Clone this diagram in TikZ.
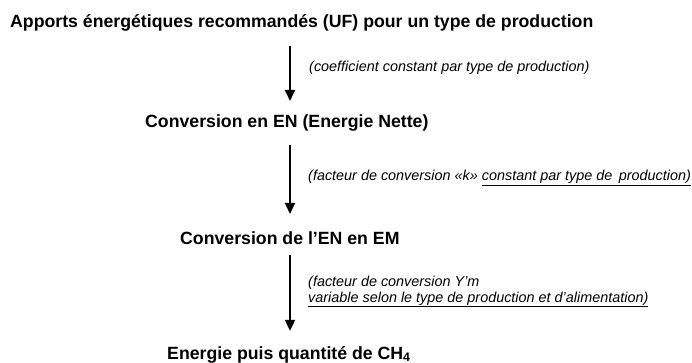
\documentclass[tikz,border=0pt]{standalone}
\usepackage{fontspec}
\setmainfont{Liberation Sans}
\usepackage{tikz}
\usetikzlibrary{arrows.meta}

\begin{document}
\begin{tikzpicture}[x=1pt, y=-1pt,
        step title/.style={anchor=base west, inner sep=2pt, font=\fontsize{17.7}{20}\selectfont\bfseries},
        step note/.style={anchor=base west, inner sep=1pt, align=left, font=\fontsize{14.4}{15.5}\selectfont\itshape},
        flow/.style={line width=2pt, -{Triangle[width=10pt,length=11pt]}}]
        \useasboundingbox (0,0) rectangle (692,363);
        \coordinate (ax) at (290,0);

        % Steps
        \node[step title] (uf) at (8,28) {Apports énergétiques recommandés (UF) pour un type de production};
        \node[step title] (en) at (143,128) {Conversion en EN (Energie Nette)};
        \node[step title] (em) at (178,244) {Conversion de l’EN en EM};
        \node[step title] (ch4) at (165,359) {Energie puis quantité de CH\textsubscript{4}};

        % Conversion arrows
        \draw[flow, shorten <=12pt, shorten >=12pt] (uf.south -| ax) -- (en.north -| ax);
        \draw[flow, shorten <=11pt, shorten >=15pt] (en.south -| ax) -- (em.north -| ax);
        \draw[flow, shorten <=9pt, shorten >=13pt] (em.south -| ax) -- (ch4.north -| ax);

        % Factors
        \node[step note] (k1) at (308,72) {(coefficient constant par type de production)};
        \node[step note] (k2) at (307,181) {(facteur de conversion «k» \underline{constant par type de\hspace{2.5pt} production)}};
        \node[step note] (k3) at (307,302) {(facteur de conversion Y’m\\\underline{variable selon le type de production et d’alimentation)}};
\end{tikzpicture}
\end{document}
